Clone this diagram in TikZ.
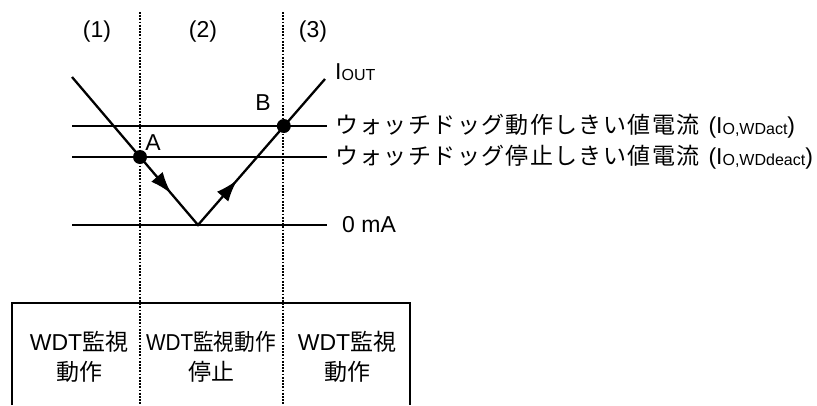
\documentclass[tikz,border=0pt]{standalone}
\usepackage{fontspec}
\setmainfont{Liberation Sans}
\newfontfamily\jp{Noto Sans CJK JP}
\newfontfamily\jpsp[LetterSpace=6]{Noto Sans CJK JP}
\usetikzlibrary{arrows.meta,decorations.markings}
\newcommand{\subtxt}[1]{\raisebox{-1pt}{\fontsize{16}{16}\selectfont #1}}
\begin{document}
\begin{tikzpicture}[x=1pt,y=-1pt,
  wire/.style={line width=2.3pt},
  divider/.style={line width=2.6pt, dash pattern=on 1.8pt off 1.4pt},
  dotmark/.style={circle,fill=black,inner sep=0pt,minimum size=14pt},
  lbl/.style={font=\fontsize{23}{30}\selectfont, inner sep=0pt},
  cell/.style={lbl, align=center},
  twoflow/.style={postaction={decorate}, decoration={markings,
     mark=at position 0.395 with {\arrow{Latex[length=22pt,width=15pt]}},
     mark=at position 0.655 with {\arrow{Latex[length=22pt,width=15pt]}}}}
]
\useasboundingbox (0,0) rectangle (817,405);
% coordinates
\coordinate (vstart) at (72,77);
\coordinate (vbot) at (198,225);
\coordinate (vend) at (325,79);
\coordinate (actL) at (72,126);
\coordinate (actR) at (327,126);
\coordinate (deaL) at (72,157);
\coordinate (deaR) at (327,157);
\coordinate (zeroL) at (72,225);
\coordinate (zeroR) at (327,225);
\coordinate (d1top) at (140,12);
\coordinate (d1bot) at (140,405);
\coordinate (d2top) at (283,12);
\coordinate (d2bot) at (283,405);
\coordinate (bxBL) at (12,405);
\coordinate (bxTL) at (12,303);
\coordinate (bxTR) at (410,303);
\coordinate (bxBR) at (410,405);

% dividers
\draw[divider] (d1top) -- (d1bot);
\draw[divider] (d2top) -- (d2bot);

% horizontal levels
\draw[wire] (actL) -- (actR);
\draw[wire] (deaL) -- (deaR);
\draw[wire] (zeroL) -- (zeroR);

% current path
\draw[wire, line join=miter, twoflow] (vstart) -- (vbot) -- (vend);

% points
\node[dotmark] (ptA) at (140,157) {};
\node[dotmark] (ptB) at (283.8,126) {};
\node[lbl] (labA) at (153,143) {A};
\node[lbl] (labB) at (263,103) {B};

% region labels
\node[lbl] (r1) at (97,32) {(1)};
\node[lbl] (r2) at (203,32) {(2)};
\node[lbl] (r3) at (313,32) {(3)};

% right labels
\node[lbl, anchor=west] (iout) at (335,72) {I\subtxt{OUT}};
\node[lbl, anchor=west] (actlab) at (335,126) {{\jpsp ウォッチドッグ動作しきい値電流}\hspace{9pt}(I\subtxt{O,WDact})};
\node[lbl, anchor=west] (dealab) at (335,157) {{\jpsp ウォッチドッグ停止しきい値電流}\hspace{9pt}(I\subtxt{O,WDdeact})};
\node[lbl, anchor=west] (zerolab) at (342,225) {0 mA};

% state box
\draw[wire] (bxBL) -- (bxTL) -- (bxTR) -- (bxBR);
\node[cell] (c1) at (79,357) {WDT{\jp 監視}\\{\jp 動作}};
\node[cell] (c2) at (211,357) {\scalebox{0.9}[1]{WDT{\jp 監視動作}}\\{\jp 停止}};
\node[cell] (c3) at (347,357) {WDT{\jp 監視}\\{\jp 動作}};
\end{tikzpicture}
\end{document}
